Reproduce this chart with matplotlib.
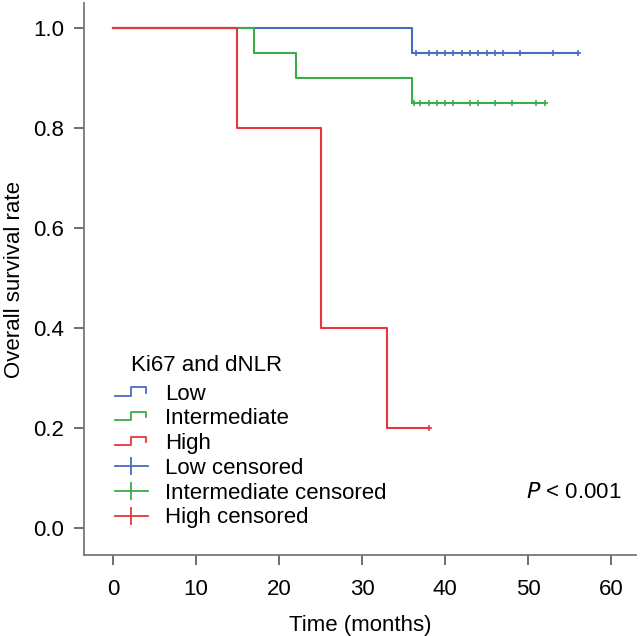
import numpy as np
import matplotlib
matplotlib.use("Agg")
import matplotlib.pyplot as plt
from matplotlib.lines import Line2D
from matplotlib.legend_handler import HandlerBase

plt.rcParams['font.family'] = ['Liberation Sans', 'DejaVu Sans']

# Kaplan-Meier steps: (event times, survival after each event)
low_times = [0, 36]
low_surv = [1.0, 0.95]
low_end = 56
low_censored = [36.5, 38, 39, 40, 41, 42, 43, 44, 45, 46, 47, 49, 53, 56]

mid_times = [0, 17, 22, 36]
mid_surv = [1.0, 0.95, 0.90, 0.85]
mid_end = 52
mid_censored = [36.3, 37, 38, 39, 40, 41, 43, 44, 46, 48, 51, 52]

high_times = [0, 15, 25, 33]
high_surv = [1.0, 0.8, 0.4, 0.2]
high_end = 38
high_censored = [38]

c_low = '#4a6cc0'
c_mid = '#3aac4a'
c_high = '#e8343c'

FS = 16


def step_xy(times, surv, end):
    x = list(times) + [end]
    y = list(surv) + [surv[-1]]
    return x, y


def surv_at(times, surv, t):
    s = surv[0]
    for tt, ss in zip(times, surv):
        if t >= tt:
            s = ss
    return s


class StepHandler(HandlerBase):
    # small step symbol like the SPSS legend
    def create_artists(self, legend, orig_handle, xdescent, ydescent,
                       width, height, fontsize, trans):
        xs = np.array([0.0, 0.5, 0.5, 0.95, 0.95]) * width - xdescent
        ys = np.array([0.25, 0.25, 0.8, 0.8, 0.45]) * height - ydescent
        line = Line2D(xs, ys, color=orig_handle.get_color(), lw=1.3)
        line.set_transform(trans)
        return [line]


fig, ax = plt.subplots(figsize=(6.4, 6.36), dpi=100)
fig.subplots_adjust(left=0.131, right=0.994, bottom=0.127, top=0.995)

groups = [
    ('Low', low_times, low_surv, low_end, low_censored, c_low),
    ('Intermediate', mid_times, mid_surv, mid_end, mid_censored, c_mid),
    ('High', high_times, high_surv, high_end, high_censored, c_high),
]

step_handles = []
cens_handles = []
for name, t, s, end, cens, col in groups:
    x, y = step_xy(t, s, end)
    ln, = ax.step(x, y, where='post', color=col, lw=1.5, label=name)
    cy = [surv_at(t, s, c) for c in cens]
    ax.plot(cens, cy, linestyle='none', marker='+', color=col, ms=5, mew=1.2)
    step_handles.append(ln)
    cens_handles.append(Line2D([], [], color=col, lw=1.3, marker='|', ms=13,
                               mew=1.3, label=name + ' censored'))

handles = step_handles + cens_handles
labels = [h.get_label() for h in handles]
hmap = {h: StepHandler() for h in step_handles}
leg = ax.legend(handles, labels, handler_map=hmap,
                loc='upper left', bbox_to_anchor=(0.056, 0.311), frameon=False,
                fontsize=FS, handlelength=1.5, labelspacing=0.17,
                handletextpad=0.77, numpoints=1, borderaxespad=0, borderpad=0)

ax.text(0.085, 0.344, 'Ki67 and dNLR', transform=ax.transAxes,
        ha='left', va='center', fontsize=FS)
ax.text(0.973, 0.114, '$\\it{P}$ < 0.001', transform=ax.transAxes,
        ha='right', va='center', fontsize=FS)

ax.set_xlim(-3.5, 63)
ax.set_ylim(-0.054, 1.05)
ax.set_xticks(np.arange(0, 61, 10))
ax.set_yticks(np.arange(0, 1.01, 0.2))
ax.set_yticklabels(['0.0', '0.2', '0.4', '0.6', '0.8', '1.0'])
ax.tick_params(labelsize=FS, length=7, width=1.2, color='#555555')
ax.tick_params(axis='x', pad=10)
ax.tick_params(axis='y', pad=7)
ax.set_xlabel('Time (months)', fontsize=FS, labelpad=11)
ax.set_ylabel('Overall survival rate', fontsize=FS, labelpad=6)

for side in ['top', 'right']:
    ax.spines[side].set_visible(False)
for side in ['left', 'bottom']:
    ax.spines[side].set_color('#777777')
    ax.spines[side].set_linewidth(1.3)

fig.savefig('out.png', dpi=100)
